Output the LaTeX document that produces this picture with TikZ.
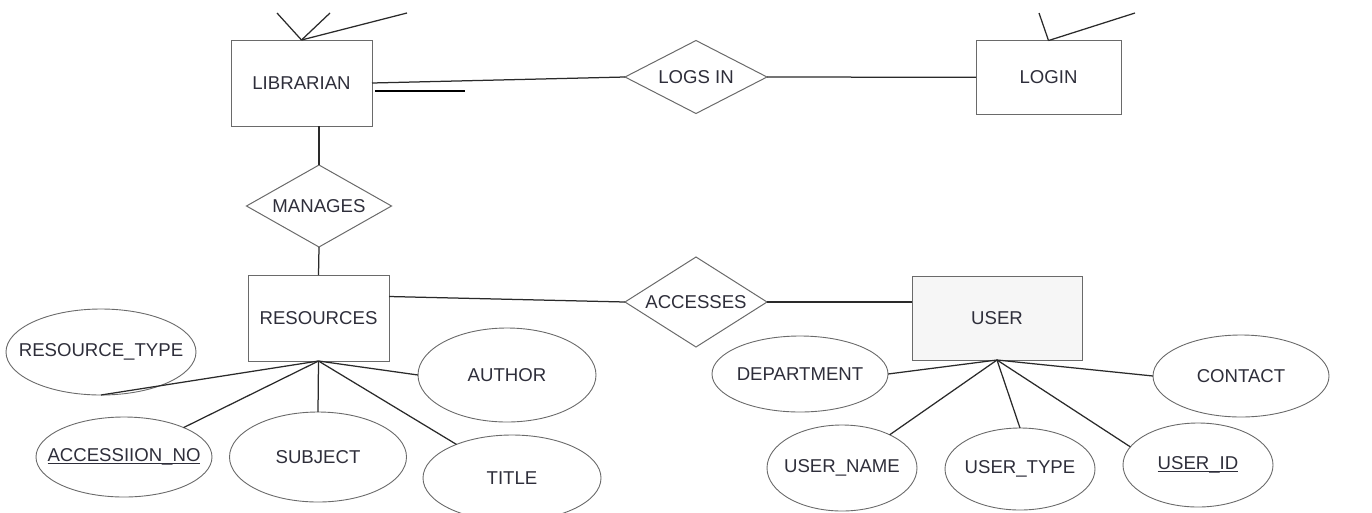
\documentclass[tikz,border=0pt]{standalone}
\usepackage{fontspec}
\setmainfont{Liberation Sans}
\usetikzlibrary{shapes.geometric,calc}
\definecolor{shapeline}{HTML}{6A6A6A}
\definecolor{linkline}{HTML}{2A2A2A}
\definecolor{labeltext}{HTML}{2E2E3A}
\definecolor{userfill}{HTML}{F6F6F6}
% key attribute: underline sitting at the level of the underscore
\newcommand\keyattr[1]{\setbox0\hbox{#1}\rlap{\rule[-2.8pt]{\wd0}{1pt}}\box0}
\begin{document}
\begin{tikzpicture}[x=1pt,y=-1pt,
  every node/.style={font=\fontsize{18.6}{22}\selectfont, text=labeltext, outer sep=0pt},
  entity/.style={draw=shapeline, line width=1pt, rectangle, inner sep=0pt},
  relation/.style={draw=shapeline, line width=1pt, diamond, inner sep=0pt},
  attr/.style={draw=shapeline, line width=0.9pt, ellipse, inner sep=0pt},
  link/.style={draw=linkline, line width=1.25pt}]
\useasboundingbox (0,0) rectangle (1372,512);
\clip (0,0) rectangle (1372,512);

% entities
\node[entity, minimum width=141, minimum height=86] (lib) at (301.5,83) {LIBRARIAN};
\node[entity, minimum width=145, minimum height=73.5] (login) at (1048.5,77.3) {LOGIN};
\node[entity, minimum width=141, minimum height=86] (res) at (318.5,318) {RESOURCES};
\node[entity, minimum width=170, minimum height=84, fill=userfill] (user) at (997,318) {USER};

% relationships
\node[relation, aspect=1.95, minimum width=142, minimum height=73] (logs) at (696,77) {LOGS IN};
\node[relation, aspect=1.77, minimum width=145, minimum height=82] (man) at (319,206) {MANAGES};
\node[relation, aspect=1.58, minimum width=142, minimum height=90] (acc) at (696,302) {ACCESSES};

% attributes of RESOURCES
\node[attr, minimum width=190, minimum height=86] (rtype) at (101,352) {\makebox[0pt]{RESOURCE\_TYPE}};
\node[attr, minimum width=176, minimum height=80] (accno) at (124,457) {\makebox[0pt]{\keyattr{ACCESSIION\_NO}}};
\node[attr, minimum width=177, minimum height=90] (subj) at (318,457) {\makebox[0pt]{SUBJECT}};
\node[attr, minimum width=178, minimum height=86] (title) at (512,478) {\makebox[0pt]{TITLE}};
\node[attr, minimum width=178, minimum height=94] (author) at (507,375) {\makebox[0pt]{AUTHOR}};

% attributes of USER
\node[attr, minimum width=176, minimum height=76] (dept) at (800,374) {\makebox[0pt]{DEPARTMENT}};
\node[attr, minimum width=176, minimum height=82] (contact) at (1241,376) {\makebox[0pt]{CONTACT}};
\node[attr, minimum width=150, minimum height=86] (uname) at (842,468) {\makebox[0pt]{USER\_NAME}};
\node[attr, minimum width=150, minimum height=82] (utype) at (1020,469) {\makebox[0pt]{USER\_TYPE}};
\node[attr, minimum width=150, minimum height=84] (uid) at (1198,465) {\makebox[0pt]{\keyattr{USER\_ID}}};

% loose ends running off the top edge
\coordinate (libA) at (277,13);
\coordinate (libB) at (330,13);
\coordinate (libC) at (407,13);
\coordinate (logA) at (1039,13);
\coordinate (logB) at (1135,13);
\draw[link] (lib.north) -- (libA);
\draw[link] (lib.north) -- (libB);
\draw[link] (lib.north) -- (libC);
\draw[link] (login.north) -- (logA);
\draw[link] (login.north) -- (logB);

% relationship connectors
\draw[link] (lib.east) -- (logs.west);
\draw[link] (logs.east) -- (login.west);
\draw[link] (man.north |- lib.south) -- (man.north);
\draw[link] (man.south) -- (res.north);
\draw[link] ($(res.north east)!0.25!(res.south east)$) -- (acc.west);
\draw[link] (acc.east) -- (user.west |- acc.east);

% participation mark under the LIBRARIAN link
\coordinate (markA) at (375,91);
\coordinate (markB) at (465,91);
\draw[line width=2pt, black] (markA) -- (markB);

% attribute connectors
\draw[link] (res.south) -- (rtype.south);
\draw[link] (res.south) -- (accno);
\draw[link] (res.south) -- (subj.north);
\draw[link] (res.south) -- (title);
\draw[link] (res.south) -- (author.west);
\draw[link] (user.south) -- (dept.east);
\draw[link] (user.south) -- (contact.west);
\draw[link] (user.south) -- (uname);
\draw[link] (user.south) -- (utype.north);
\draw[link] (user.south) -- (uid.165);
\end{tikzpicture}
\end{document}
